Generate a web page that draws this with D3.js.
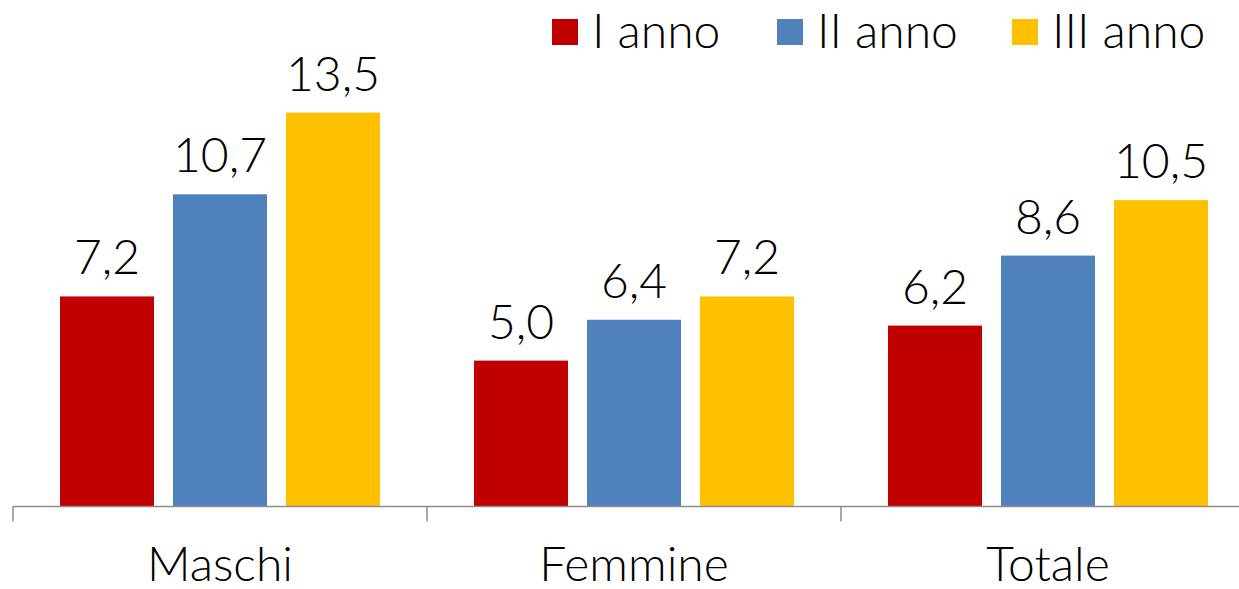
<!DOCTYPE html>
<html>
<head>
<meta charset="utf-8">
<script src="https://cdn.jsdelivr.net/npm/d3@7"></script>
<style>
  body { margin: 0; background: #fff; }
  svg { display: block; font-family: Lato, "DejaVu Sans", sans-serif; font-weight: 300; }
</style>
</head>
<body>
<svg id="chart"></svg>
<script>
const categories = ['Maschi', 'Femmine', 'Totale'];
const seriesNames = ['I anno', 'II anno', 'III anno'];
const seriesColors = ['#C00000', '#4F81BD', '#FFC000'];
const iAnno = [7.2, 5.0, 6.2];
const iiAnno = [10.7, 6.4, 8.6];
const iiiAnno = [13.5, 7.2, 10.5];

const values = [iAnno, iiAnno, iiiAnno];
const width = 1239, height = 589;
const baseline = 506.5;

const svg = d3.select('#chart').attr('width', width).attr('height', height);

// outer band per category (each 414px wide, last one runs off the right edge)
const x0 = d3.scaleBand().domain(categories).range([13, 13 + 414 * 3]);
const x1 = d3.scaleBand().domain(seriesNames).range([47, 367]).paddingInner(0.168);
const y = d3.scaleLinear().domain([0, 17.36]).range([baseline, 0]);

const fmt = v => d3.format('.1f')(v).replace('.', ',');

const groups = svg.selectAll('.grp')
  .data(categories)
  .enter()
  .append('g')
  .attr('class', 'grp')
  .attr('transform', d => `translate(${x0(d)},0)`);

groups.selectAll('rect')
  .data((c, i) => seriesNames.map((s, j) => ({ s, j, v: values[j][i] })))
  .enter()
  .append('rect')
  .attr('x', d => x1(d.s))
  .attr('y', d => y(d.v))
  .attr('width', x1.bandwidth())
  .attr('height', d => baseline - y(d.v))
  .attr('fill', d => seriesColors[d.j]);

groups.selectAll('.lbl')
  .data((c, i) => seriesNames.map((s, j) => ({ s, j, v: values[j][i] })))
  .enter()
  .append('text')
  .attr('class', 'lbl')
  .attr('x', d => x1(d.s) + x1.bandwidth() / 2)
  .attr('y', d => y(d.v) - 22)
  .attr('text-anchor', 'middle')
  .attr('font-size', 48)
  .attr('fill', '#000')
  .text(d => fmt(d.v));

// category axis
const axis = svg.append('g').attr('transform', `translate(0,${baseline})`);
axis.append('line')
  .attr('x1', 13).attr('x2', width)
  .attr('stroke', '#8c8c8c').attr('stroke-width', 1.5);
axis.selectAll('.tick')
  .data(categories)
  .enter()
  .append('line')
  .attr('x1', d => x0(d)).attr('x2', d => x0(d))
  .attr('y1', 0).attr('y2', 15)
  .attr('stroke', '#8c8c8c').attr('stroke-width', 1.5);
axis.selectAll('.cat')
  .data(categories)
  .enter()
  .append('text')
  .attr('x', d => x0(d) + x0.bandwidth() / 2)
  .attr('y', 74)
  .attr('text-anchor', 'middle')
  .attr('font-size', 48)
  .attr('fill', '#000')
  .text(d => d);

// legend
const legendX = [552, 777, 1012];
const legend = svg.selectAll('.leg')
  .data(seriesNames)
  .enter()
  .append('g')
  .attr('transform', (d, i) => `translate(${legendX[i]},19)`);
legend.append('rect')
  .attr('width', 26).attr('height', 26)
  .attr('fill', (d, i) => seriesColors[i]);
legend.append('text')
  .attr('x', 40).attr('y', 29)
  .attr('font-size', 48)
  .attr('fill', '#000')
  .text(d => d);
</script>
</body>
</html>
